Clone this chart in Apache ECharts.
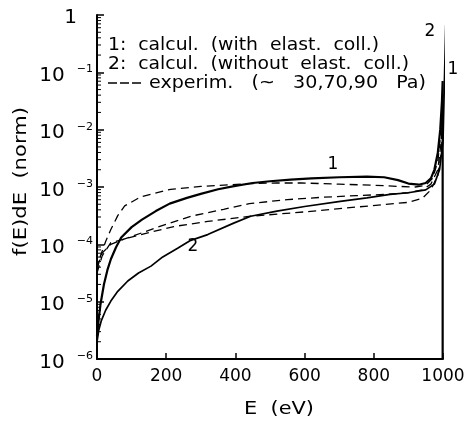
<!DOCTYPE html>
<html>
<head>
<meta charset="utf-8">
<script src="https://cdn.jsdelivr.net/npm/echarts@6/dist/echarts.min.js"></script>
<style>html,body{margin:0;padding:0;background:#fff}#c{width:468px;height:425px}</style>
</head>
<body>
<div id="c"></div>
<script>
// Energy (eV) and log10 of f(E)dE (norm)
var calc1E   = [0,5,10,20,30,40,55,70,100,130,170,210,260,300,350,400,450,500,560,620,700,780,830,870,900,930,950,965,975,985,992,997,999,999];
var calc1Log = [-5.6,-5.3,-5.05,-4.7,-4.45,-4.26,-4.05,-3.88,-3.7,-3.57,-3.42,-3.29,-3.19,-3.12,-3.04,-2.98,-2.93,-2.9,-2.87,-2.85,-2.83,-2.82,-2.83,-2.88,-2.94,-2.96,-2.93,-2.85,-2.7,-2.4,-2.0,-1.5,-1.15,-6];

var calc2E   = [0,5,12,25,40,60,89,120,156,190,233,271,320,395,444,520,600,703,780,847,900,950,975,990,1000,1008];
var calc2Log = [-5.7,-5.5,-5.34,-5.15,-4.99,-4.82,-4.64,-4.5,-4.38,-4.22,-4.07,-3.93,-3.83,-3.63,-3.51,-3.42,-3.34,-3.25,-3.19,-3.13,-3.1,-3.05,-2.95,-2.7,-2.2,-0.17];
var calc2DropE   = [1008,1008];
var calc2DropLog = [-0.17,-6];

var expAE   = [0,10,25,40,60,80,127,213,300,386,444,520,590,700,800,876,920,950,970,985,995,1000];
var expALog = [-4.45,-4.2,-3.95,-3.74,-3.5,-3.33,-3.17,-3.04,-2.99,-2.96,-2.94,-2.93,-2.93,-2.95,-2.97,-2.99,-3.0,-2.97,-2.85,-2.55,-2.0,-1.4];

var expBE   = [0,15,40,78,176,271,366,440,550,650,750,830,900,940,965,985,995,1000];
var expBLog = [-4.4,-4.15,-4.0,-3.91,-3.7,-3.51,-3.39,-3.29,-3.22,-3.18,-3.15,-3.13,-3.1,-3.05,-2.95,-2.7,-2.2,-1.7];

var expCE   = [0,15,40,127,222,320,444,608,750,896,940,965,985,995,1000];
var expCLog = [-4.5,-4.2,-3.97,-3.83,-3.69,-3.6,-3.51,-3.43,-3.35,-3.27,-3.2,-3.05,-2.8,-2.4,-1.9];

var xTicks = [0,200,400,600,800,1000];
var yDecades = [-6,-5,-4,-3,-2,-1,0];
var minorMult = [2,3,4,5,6,7,8,9];

var legendTexts = ['1:  calcul.  (with  elast.  coll.)', '2:  calcul.  (without  elast.  coll.)', 'experim.   (~   30,70,90   Pa)'];
var xTitle = 'E  (eV)';
var yTitle = 'f(E)dE  (norm)';

function pairs(a,b){ return a.map(function(v,i){ return [v,b[i]]; }); }
var minorTicks = [];
yDecades.slice(0,-1).forEach(function(d){ minorMult.forEach(function(k){ minorTicks.push([0, d + Math.log10(k)]); }); });

var FONT = 'DejaVu Sans';
var mctx = document.createElement('canvas').getContext('2d');
function fitText(t, size, x, y, targetW, rot){
  mctx.font = size + 'px "' + FONT + '"';
  var w = mctx.measureText(t).width;
  return {type:'text', x:x, y:y, rotation:rot||0, scaleX:targetW / w,
    style:{text:t, font:size + 'px "' + FONT + '"', fill:'#000', align:'left', verticalAlign:'middle'}};
}

var chart = echarts.init(document.getElementById('c'), null, {renderer:'canvas'});
var dashed = {color:'#000', width:1.3, type:[8,5]};

chart.setOption({
  animation:false,
  backgroundColor:'#fff',
  grid:{left:97, right:25, top:15, bottom:66, containLabel:false},
  xAxis:{
    type:'value', min:0, max:1000, interval:200,
    axisLine:{show:true, onZero:false, lineStyle:{color:'#000', width:2}},
    axisTick:{show:true, inside:true, length:6, lineStyle:{color:'#000', width:1.5}},
    splitLine:{show:false},
    axisLabel:{color:'#000', fontFamily:FONT, fontSize:17, margin:9, formatter:function(v){ return String(v); }}
  },
  yAxis:{
    type:'value', min:-6, max:0, interval:1,
    axisLine:{show:true, onZero:false, lineStyle:{color:'#000', width:2}},
    axisTick:{show:true, inside:true, length:7, lineStyle:{color:'#000', width:1.5}},
    splitLine:{show:false},
    axisLabel:{
      margin:4, color:'#000', fontFamily:FONT,
      formatter:function(v){ return v===0 ? '{one|1}' : '{b|10}{s|\u2212' + Math.abs(v) + '}'; },
      rich:{
        b:{fontSize:20, fontFamily:FONT, color:'#000', padding:[7,12,0,0]},
        s:{fontSize:11, fontFamily:FONT, color:'#000', padding:[0,0,6,0]},
        one:{fontSize:20, fontFamily:FONT, color:'#000', padding:[6,16,0,0]}
      }
    }
  },
  series:[
    {type:'custom', data:minorTicks, silent:true, z:3,
      renderItem:function(params, api){
        var p = api.coord([api.value(0), api.value(1)]);
        return {type:'line', shape:{x1:p[0], y1:p[1], x2:p[0]+4, y2:p[1]}, style:{stroke:'#000', lineWidth:1}};
      }},
    {type:'line', data:pairs(expAE, expALog), showSymbol:false, lineStyle:dashed, z:2},
    {type:'line', data:pairs(expBE, expBLog), showSymbol:false, lineStyle:dashed, z:2},
    {type:'line', data:pairs(expCE, expCLog), showSymbol:false, lineStyle:dashed, z:2},
    {type:'line', data:pairs(calc2E, calc2Log), showSymbol:false, clip:false, lineStyle:{color:'#000', width:1.7}, z:4},
    {type:'line', data:pairs(calc2DropE, calc2DropLog), showSymbol:false, clip:false, lineStyle:{color:'#000', width:1.3, type:[7,3]}, z:4},
    {type:'line', data:pairs(calc1E, calc1Log), showSymbol:false, clip:false, lineStyle:{color:'#000', width:2.2}, z:5}
  ],
  graphic:[
    fitText(legendTexts[0], 17, 108, 46, 271),
    fitText(legendTexts[1], 17, 108, 65, 301),
    {type:'line', shape:{x1:108, y1:83, x2:142, y2:83}, style:{stroke:'#000', lineWidth:1.5, lineDash:[9,3]}},
    fitText(legendTexts[2], 17, 149, 84, 277),
    fitText(xTitle, 18, 244, 409, 70),
    fitText(yTitle, 18, 21, 256, 149, Math.PI/2),
    {type:'text', x:333, y:165, style:{text:'1', font:'17px "DejaVu Sans"', fill:'#000', align:'center', verticalAlign:'middle'}},
    {type:'text', x:193, y:247, style:{text:'2', font:'17px "DejaVu Sans"', fill:'#000', align:'center', verticalAlign:'middle'}},
    {type:'text', x:430, y:32, style:{text:'2', font:'17px "DejaVu Sans"', fill:'#000', align:'center', verticalAlign:'middle'}},
    {type:'text', x:453, y:70, style:{text:'1', font:'17px "DejaVu Sans"', fill:'#000', align:'center', verticalAlign:'middle'}}
  ]
});
</script>
</body>
</html>
